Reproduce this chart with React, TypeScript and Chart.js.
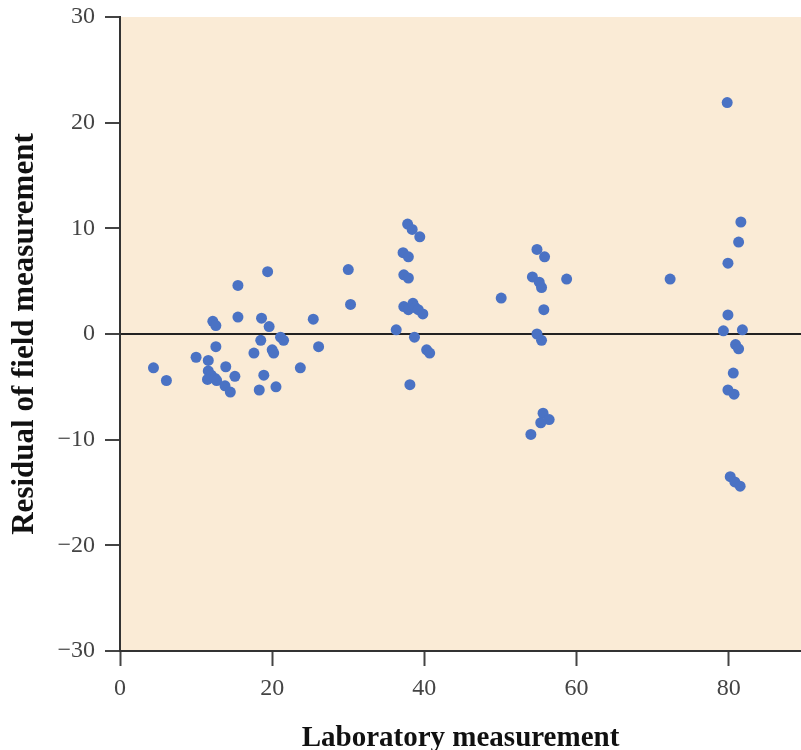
import React, { useEffect, useRef } from "react";
import { Chart, registerables } from "chart.js";

Chart.register(...registerables);

const labX: number[] = [
  4.4, 6.1, 10.0, 11.6, 11.6, 12.0, 11.5, 12.5, 12.7, 12.2, 12.6, 12.6, 13.8, 14.5, 13.9, 15.1,
  15.5, 15.5, 17.6, 18.3, 18.6, 19.6, 18.5, 18.9, 20.0, 20.2, 21.1, 21.5, 20.5, 23.7, 25.4, 26.1,
  19.4, 30.0, 30.3, 36.3, 37.8, 38.4, 39.4, 37.2, 37.9, 37.3, 37.9, 37.3, 37.9, 38.5, 38.8, 39.2,
  39.8, 38.7, 40.3, 40.7, 38.1, 50.1, 54.8, 55.8, 54.2, 55.1, 55.4, 58.7, 55.7, 54.8, 55.4, 55.6,
  56.4, 55.3, 54.0, 72.3, 79.8, 81.6, 81.3, 79.9, 79.9, 79.3, 81.8, 80.9, 81.3, 80.6, 79.9, 80.7,
  80.2, 80.8, 81.5,
];
const residualY: number[] = [
  -3.2, -4.4, -2.2, -2.5, -3.5, -3.9, -4.3, -4.2, -4.4, 1.2, 0.8, -1.2, -4.9, -5.5, -3.1, -4.0,
  4.6, 1.6, -1.8, -5.3, 1.5, 0.7, -0.6, -3.9, -1.5, -1.8, -0.3, -0.6, -5.0, -3.2, 1.4, -1.2,
  5.9, 6.1, 2.8, 0.4, 10.4, 9.9, 9.2, 7.7, 7.3, 5.6, 5.3, 2.6, 2.3, 2.9, 2.5, 2.3,
  1.9, -0.3, -1.5, -1.8, -4.8, 3.4, 8.0, 7.3, 5.4, 4.9, 4.4, 5.2, 2.3, 0.0, -0.6, -7.5,
  -8.1, -8.4, -9.5, 5.2, 21.9, 10.6, 8.7, 6.7, 1.8, 0.3, 0.4, -1.0, -1.4, -3.7, -5.3, -5.7,
  -13.5, -14.0, -14.4,
];
const xTicks: number[] = [0, 20, 40, 60, 80];
const yTicks: number[] = [-30, -20, -10, 0, 10, 20, 30];

const bgPlugin = {
  id: "plotBg",
  beforeDraw(chart: any) {
    const { ctx, chartArea } = chart;
    if (!chartArea) return;
    ctx.save();
    ctx.fillStyle = "#FAEBD6";
    ctx.fillRect(chartArea.left, chartArea.top, chartArea.right - chartArea.left, chartArea.bottom - chartArea.top);
    ctx.restore();
  },
};

export default function App() {
  const ref = useRef<HTMLCanvasElement | null>(null);
  useEffect(() => {
    if (!ref.current) return;
    const data = labX.map((x, i) => ({ x, y: residualY[i] }));
    const chart = new Chart(ref.current, {
      type: "scatter",
      data: {
        datasets: [
          {
            data,
            backgroundColor: "#4A72C4",
            borderColor: "#4A72C4",
            borderWidth: 0,
            pointRadius: 5.5,
          },
        ],
      },
      plugins: [bgPlugin],
      options: {
        animation: false,
        responsive: false,
        devicePixelRatio: 1,
        layout: { autoPadding: false, padding: { top: 17, right: 0, left: 0, bottom: 0 } },
        plugins: { legend: { display: false }, tooltip: { enabled: false } },
        scales: {
          x: {
            type: "linear",
            min: 0,
            max: 89.5,
            afterBuildTicks: (scale: any) => {
              scale.ticks = xTicks.map((v) => ({ value: v }));
            },
            afterFit: (scale: any) => {
              scale.height = 99;
              scale.paddingLeft = 0;
              scale.paddingRight = 0;
            },
            ticks: {
              color: "#444",
              font: { family: "Liberation Serif", size: 24 },
              padding: 8,
              maxRotation: 0,
              autoSkip: false,
            },
            grid: {
              drawOnChartArea: false,
              tickLength: 15,
              tickColor: "#444",
              tickWidth: 2,
            },
            border: { display: true, color: "#333", width: 2 },
            title: {
              display: true,
              text: "Laboratory measurement",
              color: "#111",
              font: { family: "Liberation Serif", size: 29, weight: "bold", lineHeight: 0.82 },
              padding: { top: 0, bottom: 0 },
            },
          },
          y: {
            type: "linear",
            min: -30,
            max: 30,
            afterBuildTicks: (scale: any) => {
              scale.ticks = yTicks.map((v) => ({ value: v }));
            },
            afterFit: (scale: any) => {
              scale.width = 120;
              scale.paddingTop = 0;
              scale.paddingBottom = 0;
            },
            ticks: {
              color: "#444",
              font: { family: "Liberation Serif", size: 24 },
              padding: 10,
              autoSkip: false,
              callback: (v: any) => (Number(v) < 0 ? "\u2212" + Math.abs(Number(v)) : String(v)),
            },
            grid: {
              drawOnChartArea: true,
              color: (c: any) => (c.tick && c.tick.value === 0 ? "#222" : "rgba(0,0,0,0)"),
              lineWidth: (c: any) => (c.tick && c.tick.value === 0 ? 2 : 0),
              tickLength: 15,
              tickColor: "#444",
              tickWidth: 2,
            },
            border: { display: true, color: "#333", width: 2 },
            title: {
              display: true,
              text: "Residual of field measurement",
              color: "#111",
              font: { family: "Liberation Serif", size: 31, weight: "bold" },
              padding: { top: 6, bottom: 0 },
            },
          },
        },
      },
    });
    return () => chart.destroy();
  }, []);
  return (
    <div style={{ position: "absolute", left: 0, top: 0, width: 801, height: 750, background: "#fff" }}>
      <canvas ref={ref} width={801} height={750} style={{ display: "block" }} />
    </div>
  );
}
